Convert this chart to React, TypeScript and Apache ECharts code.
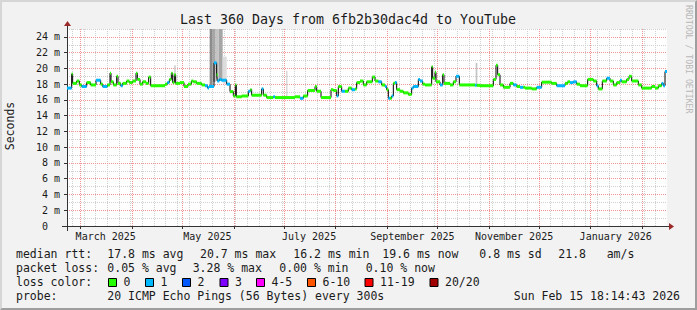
import React, { useEffect, useRef } from 'react';
import * as echarts from 'echarts';

// ---------- time frame ----------
const START = Date.UTC(2025, 1, 20, 18, 14, 43); // Feb 20 2025 18:14:43 UTC (360 days before end)
const DAY_MS = 86400000;
const SPAN_DAYS = 360;

// ---------- axis ticks / labels ----------
const MONTH_STARTS = [
  '2025-03-01', '2025-04-01', '2025-05-01', '2025-06-01', '2025-07-01', '2025-08-01',
  '2025-09-01', '2025-10-01', '2025-11-01', '2025-12-01', '2026-01-01', '2026-02-01',
];
const LABEL_DATES = ['2025-03-16', '2025-05-16', '2025-07-16', '2025-09-16', '2025-11-16', '2026-01-16'];
const LABEL_TEXTS = ['March 2025', 'May 2025', 'July 2025', 'September 2025', 'November 2025', 'January 2026'];
const FIRST_MONDAY = '2025-02-24';
const Y_TICKS = [0, 2, 4, 6, 8, 10, 12, 14, 16, 18, 20, 22, 24];
const Y_MAX = 25;

// ---------- median RTT (ms): segment start day, value, loss class ----------
const SEG_DAYS = [
  0, 2.8, 3.4, 5.8, 7.4, 8.8, 11.8, 14.2, 17.4, 20.2, 21.4, 24.2, 25.8, 26.4, 27.8, 29.8, 30.6, 32.2, 33.4, 35.8,
  37.4, 39.4, 41.4, 42.2, 43.8, 45.4, 47.4, 49.0, 50.2, 58.8, 60.2, 61.4, 62.6, 63.4, 64.4, 65.2, 67.8, 70.2, 72.6, 74.6,
  75.8, 77.8, 80.8, 82.8, 84.4, 85.2, 88.2, 89.8, 90.2, 91.4, 92.6, 95.8, 97.8, 99.8, 101.0, 101.6, 104.8, 108.8, 110.0, 110.8,
  116.8, 117.8, 119.8, 123.8, 124.8, 136.8, 139.8, 141.8, 144.4, 148.8, 149.8, 152.4, 158.4, 159.8, 161.8, 162.8, 164.8, 166.8, 168.8, 170.8,
  172.8, 173.8, 175.8, 177.8, 179.8, 183.2, 184.8, 186.8, 188.8, 190.8, 191.8, 192.8, 193.8, 194.8, 195.8, 196.8, 197.8, 199.8, 201.8, 204.8,
  206.8, 207.8, 210.8, 211.8, 213.4, 214.8, 218.8, 219.4, 220.8, 221.4, 223.8, 225.4, 226.2, 229.8, 231.8, 233.4, 235.4, 244.8, 245.8, 247.8,
  255.8, 257.4, 258.4, 259.8, 261.8, 265.8, 267.8, 269.8, 271.8, 273.8, 274.8, 278.8, 281.8, 284.8, 290.8, 293.8, 298.8, 300.4, 301.8, 303.8,
  305.8, 307.8, 312.4, 315.8, 317.8, 318.8, 321.2, 323.8, 325.8, 327.8, 329.8, 331.8, 332.8, 335.8, 337.2, 338.8, 342.8, 344.8, 350.8, 352.8,
  354.8, 356.8, 357.8, 358.8,
];
const MEDIAN = [
  17.5, 19.3, 18.1, 18.4, 17.9, 17.7, 18.2, 17.9, 18.5, 18.0, 17.7, 17.9, 19.4, 18.3, 17.9, 19.0, 18.1, 17.8, 18.1, 18.4,
  18.2, 18.4, 19.4, 18.6, 18.0, 18.3, 18.1, 18.9, 17.8, 18.0, 18.2, 18.6, 19.4, 18.2, 19.2, 18.1, 18.2, 17.7, 18.0, 18.4,
  18.3, 18.1, 17.9, 17.8, 17.5, 17.7, 20.7, 19.2, 18.4, 18.6, 18.5, 18.0, 17.05, 16.5, 17.9, 16.4, 16.5, 17.1, 17.3, 16.6,
  17.4, 16.6, 16.3, 16.4, 16.3, 16.4, 16.2, 16.5, 17.2, 17.7, 17.1, 16.3, 17.3, 17.2, 16.5, 17.7, 17.1, 17.1, 17.5, 17.3,
  17.4, 18.2, 18.4, 17.9, 18.3, 18.9, 18.4, 18.3, 17.9, 17.7, 17.3, 16.2, 16.2, 16.5, 18.1, 18.2, 17.3, 17.1, 16.9, 16.7,
  17.5, 17.7, 18.6, 18.4, 18.0, 17.9, 20.2, 18.75, 19.5, 18.3, 17.9, 19.2, 18.1, 17.9, 18.3, 19.0, 17.9, 17.85, 17.85, 17.8,
  18.6, 20.4, 19.2, 17.9, 17.6, 18.1, 17.9, 17.7, 17.6, 17.6, 17.5, 17.4, 17.6, 18.25, 18.1, 17.8, 18.1, 18.3, 18.2, 18.3,
  18.0, 17.8, 18.6, 18.4, 17.8, 17.4, 18.4, 18.75, 18.4, 17.9, 18.2, 18.5, 18.3, 18.6, 19.0, 18.4, 17.9, 17.5, 17.7, 17.5,
  17.8, 18.1, 17.8, 19.6,
];
const LOSS = [
  1, 0, 0, 0, 0, 1, 0, 0, 1, 0, 1, 0, 0, 0, 0, 0, 0, 1, 0, 0,
  0, 0, 0, 0, 0, 0, 0, 0, 0, 0, 1, 0, 0, 0, 0, 0, 0, 0, 0, 0,
  0, 0, 0, 1, 1, 1, 1, 0, 1, 1, 1, 1, 0, 0, 0, 0, 0, 1, 0, 0,
  1, 0, 0, 1, 0, 0, 1, 0, 0, 0, 0, 0, 0, 0, 1, 0, 1, 0, 0, 1,
  0, 0, 0, 0, 0, 0, 0, 1, 0, 1, 0, 1, 0, 1, 0, 1, 0, 0, 0, 0,
  1, 1, 1, 1, 0, 0, 0, 0, 0, 0, 1, 0, 0, 0, 0, 1, 0, 1, 0, 0,
  0, 0, 0, 0, 0, 0, 1, 0, 1, 0, 0, 0, 1, 0, 0, 1, 0, 0, 1, 1,
  0, 0, 0, 0, 1, 0, 0, 1, 0, 0, 0, 1, 0, 0, 0, 0, 0, 0, 0, 0,
  0, 1, 1, 1,
];

// ---------- smoke (ping spread), ms ----------
const SMOKE_START = [64.4, 85.6, 87.4, 89.2, 91.0, 93.4, 131.6, 220.6, 245.2];
const SMOKE_END = [65.2, 87.4, 89.2, 91.0, 93.4, 95.8, 132.2, 221.2, 246.2];
const SMOKE_LO = [18.2, 17.6, 18.3, 18.4, 18.5, 18.1, 16.3, 18.3, 17.85];
const SMOKE_HI = [20.4, 26, 26, 26, 26, 21.5, 19.7, 19.8, 20.7];
const SMOKE_LEVEL = [1, 3, 2, 1, 2, 0, 1, 0, 1];
const SMOKE_COLORS = ['#dcdcdc', '#c4c4c4', '#a6a6a6', '#8c8c8c'];

// ---------- legend ----------
const RTT_STATS = ['17.8 ms avg', '20.7 ms max', '16.2 ms min', '19.6 ms now', '0.8 ms sd', '21.8', 'am/s'];
const LOSS_STATS = ['0.05 % avg', '3.28 % max', '0.00 % min', '0.10 % now'];
const LOSS_LABELS = ['0', '1', '2', '3', '4-5', '6-10', '11-19', '20/20'];
const LOSS_COLORS = ['#26ff00', '#00b8ff', '#0059ff', '#7e00ff', '#ff00ff', '#ff5500', '#ff0000', '#a10000'];
const PROBE_TEXT = '20 ICMP Echo Pings (56 Bytes) every 300s';
const DATE_TEXT = 'Sun Feb 15 18:14:43 2026';
const TITLE = 'Last 360 Days from 6fb2b30dac4d to YouTube';

// ---------- layout ----------
const W = 697;
const H = 310;
const G_LEFT = 67;
const G_RIGHT = 667;
const G_TOP = 29;
const G_BOTTOM = 226;
const MONO = "'DejaVu Sans Mono', monospace";
const TXT = '#1a1a1a';
const RTT_X = [107.3, 200, 293.3, 382.3, 479.3, 558.3, 606.7];
const LOSS_X = [107.3, 192.7, 279.3, 365.7];
const BOX_X = [108.5, 145.5, 182.5, 220, 256.5, 307.5, 365, 430];
const ROW_Y = [254, 268, 282, 296];

const toDay = (s: string) => (Date.parse(s + 'T00:00:00Z') - START) / DAY_MS;

export default function App() {
  const ref = useRef<HTMLDivElement>(null);

  useEffect(() => {
    if (!ref.current) return;
    const chart = echarts.init(ref.current, null, { renderer: 'svg' });

    const monthDays = MONTH_STARTS.map(toDay);
    const labelDays = LABEL_DATES.map(toDay);
    const weekDays: number[] = [];
    for (let d = toDay(FIRST_MONDAY); d < SPAN_DAYS; d += 7) weekDays.push(d);

    const segData = SEG_DAYS.map((d, i) => [
      d,
      i + 1 < SEG_DAYS.length ? SEG_DAYS[i + 1] : SPAN_DAYS,
      MEDIAN[i],
      LOSS[i],
    ]);
    const stepData: number[][] = SEG_DAYS.map((d, i) => [d, MEDIAN[i]]);
    stepData.push([SPAN_DAYS, MEDIAN[MEDIAN.length - 1]]);
    const smokeData = SMOKE_START.map((d, i) => [d, SMOKE_END[i], SMOKE_LO[i], SMOKE_HI[i], SMOKE_LEVEL[i]]);

    const text = (x: number, y: number, s: string, extra: any = {}) => ({
      type: 'text',
      x,
      y,
      silent: true,
      style: {
        text: s,
        fill: TXT,
        fontFamily: MONO,
        fontSize: 11.5,
        textAlign: 'left',
        textVerticalAlign: 'middle',
        ...extra,
      },
    });

    const graphics: any[] = [
      text(W / 2 - 0.5, 19, TITLE, { textAlign: 'center', fontSize: 13.3 }),
      {
        type: 'text',
        x: 10,
        y: 126,
        rotation: Math.PI / 2,
        silent: true,
        style: { text: 'Seconds', fill: TXT, fontFamily: MONO, fontSize: 11.5, textAlign: 'center', textVerticalAlign: 'middle' },
      },
      {
        type: 'text',
        x: 689,
        y: 5,
        rotation: -Math.PI / 2,
        silent: true,
        style: { text: 'RRDTOOL / TOBI OETIKER', fill: '#b8b8b8', fontFamily: MONO, fontSize: 8.2, textAlign: 'left', textVerticalAlign: 'middle' },
      },
      // axis extensions and arrows
      { type: 'line', silent: true, shape: { x1: 62, y1: G_BOTTOM + 0.5, x2: G_LEFT, y2: G_BOTTOM + 0.5 }, style: { stroke: '#333', lineWidth: 1 } },
      { type: 'line', silent: true, shape: { x1: G_RIGHT, y1: G_BOTTOM + 0.5, x2: 669, y2: G_BOTTOM + 0.5 }, style: { stroke: '#333', lineWidth: 1 } },
      { type: 'line', silent: true, shape: { x1: G_LEFT + 0.5, y1: G_BOTTOM, x2: G_LEFT + 0.5, y2: 231 }, style: { stroke: '#333', lineWidth: 1 } },
      { type: 'line', silent: true, shape: { x1: G_LEFT + 0.5, y1: G_TOP, x2: G_LEFT + 0.5, y2: 25 }, style: { stroke: '#333', lineWidth: 1 } },
      { type: 'polygon', silent: true, shape: { points: [[669, 223], [669, 230], [674, 226.5]] }, style: { fill: '#9a2a2a' } },
      { type: 'polygon', silent: true, shape: { points: [[64, 26], [71, 26], [67.5, 21]] }, style: { fill: '#9a2a2a' } },
      // legend
      text(16, ROW_Y[0], 'median rtt:'),
      ...RTT_STATS.map((s, i) => text(RTT_X[i], ROW_Y[0], s)),
      text(16, ROW_Y[1], 'packet loss:'),
      ...LOSS_STATS.map((s, i) => text(LOSS_X[i], ROW_Y[1], s)),
      text(16, ROW_Y[2], 'loss color:'),
      ...LOSS_LABELS.map((s, i) => ({
        type: 'rect',
        silent: true,
        shape: { x: BOX_X[i], y: ROW_Y[2] - 3.5, width: 8, height: 8 },
        style: { fill: LOSS_COLORS[i], stroke: '#000', lineWidth: 1 },
      })),
      ...LOSS_LABELS.map((s, i) => text(BOX_X[i] + 15, ROW_Y[2], s)),
      text(16, ROW_Y[3], 'probe:'),
      text(107.3, ROW_Y[3], PROBE_TEXT),
      text(680, ROW_Y[3], DATE_TEXT, { textAlign: 'right' }),
    ];

    const option: any = {
      animation: false,
      backgroundColor: '#f2f2f2',
      grid: {
        left: G_LEFT,
        right: W - G_RIGHT,
        top: G_TOP,
        bottom: H - G_BOTTOM,
        show: true,
        backgroundColor: '#ffffff',
        borderWidth: 0,
      },
      xAxis: [
        {
          type: 'value',
          min: 0,
          max: SPAN_DAYS,
          position: 'bottom',
          z: 1,
          axisLine: { show: true, lineStyle: { color: '#333', width: 1 } },
          axisTick: { show: true, length: 3, customValues: monthDays, lineStyle: { color: '#333' } },
          splitLine: {
            show: true,
            customValues: monthDays,
            lineStyle: { color: '#f29494', type: [1, 1], width: 1 },
          },
          axisLabel: {
            show: true,
            customValues: labelDays,
            margin: 5,
            color: TXT,
            fontFamily: MONO,
            fontSize: 10,
            formatter: (v: number) => {
              const idx = labelDays.findIndex((d) => Math.abs(d - v) < 0.01);
              return idx >= 0 ? LABEL_TEXTS[idx] : '';
            },
          },
        },
        {
          type: 'value',
          min: 0,
          max: SPAN_DAYS,
          position: 'bottom',
          z: 0,
          axisLine: { show: false },
          axisTick: { show: false, customValues: weekDays },
          axisLabel: { show: false },
          splitLine: {
            show: true,
            customValues: weekDays,
            lineStyle: { color: '#cfcfcf', type: [1, 1], width: 1 },
          },
        },
      ],
      yAxis: [
        {
          type: 'value',
          min: 0,
          max: Y_MAX,
          interval: 1,
          position: 'left',
          z: 0,
          axisLine: { show: false },
          axisTick: { show: false },
          axisLabel: { show: false },
          splitLine: { show: true, lineStyle: { color: '#cfcfcf', type: [1, 1], width: 1 } },
        },
        {
          type: 'value',
          min: 0,
          max: Y_MAX,
          position: 'left',
          z: 1,
          axisLine: { show: true, lineStyle: { color: '#333', width: 1 } },
          axisTick: { show: true, length: 3, customValues: Y_TICKS, lineStyle: { color: '#333' } },
          splitLine: {
            show: true,
            customValues: Y_TICKS,
            lineStyle: { color: '#f29494', type: [1, 1], width: 1 },
          },
          axisLabel: {
            show: true,
            customValues: Y_TICKS,
            margin: 7,
            color: TXT,
            fontFamily: MONO,
            fontSize: 10,
            formatter: (v: number) => (v === 0 ? '{z|0}' : `${v} m`),
            rich: { z: { padding: [0, 12, 0, 0], fontFamily: MONO, fontSize: 10, color: TXT } },
          },
        },
      ],
      series: [
        {
          type: 'custom',
          name: 'smoke',
          xAxisIndex: 0,
          yAxisIndex: 0,
          clip: true,
          z: 2,
          encode: { x: [0, 1], y: [2, 3] },
          data: smokeData,
          renderItem: (_p: any, api: any) => {
            const a = api.coord([api.value(0), api.value(3)]);
            const b = api.coord([api.value(1), api.value(2)]);
            return {
              type: 'rect',
              shape: { x: a[0], y: a[1], width: Math.max(b[0] - a[0], 1), height: b[1] - a[1] },
              style: { fill: SMOKE_COLORS[api.value(4)] },
            };
          },
        },
        {
          type: 'line',
          name: 'median',
          xAxisIndex: 0,
          yAxisIndex: 0,
          step: 'end',
          symbol: 'none',
          clip: true,
          z: 3,
          lineStyle: { color: '#000', width: 1 },
          data: stepData,
        },
        {
          type: 'custom',
          name: 'loss',
          xAxisIndex: 0,
          yAxisIndex: 0,
          clip: true,
          z: 4,
          encode: { x: [0, 1], y: 2 },
          data: segData,
          renderItem: (_p: any, api: any) => {
            const a = api.coord([api.value(0), api.value(2)]);
            const b = api.coord([api.value(1), api.value(2)]);
            return {
              type: 'rect',
              shape: { x: a[0], y: a[1] - 1.5, width: Math.max(b[0] - a[0], 1), height: 3 },
              style: { fill: LOSS_COLORS[api.value(3)] },
            };
          },
        },
      ],
      graphic: graphics,
    };

    chart.setOption(option);
    return () => chart.dispose();
  }, []);

  return (
    <div style={{ position: 'fixed', left: 0, top: 0, width: W, height: H }}>
      <div ref={ref} style={{ width: W, height: H }} />
      <div
        style={{
          position: 'absolute',
          left: 0,
          top: 0,
          width: W,
          height: H,
          boxSizing: 'border-box',
          borderTop: '2px solid #d6d6d6',
          borderLeft: '2px solid #d6d6d6',
          borderRight: '2px solid #9e9e9e',
          borderBottom: '2px solid #9e9e9e',
          pointerEvents: 'none',
        }}
      />
    </div>
  );
}
